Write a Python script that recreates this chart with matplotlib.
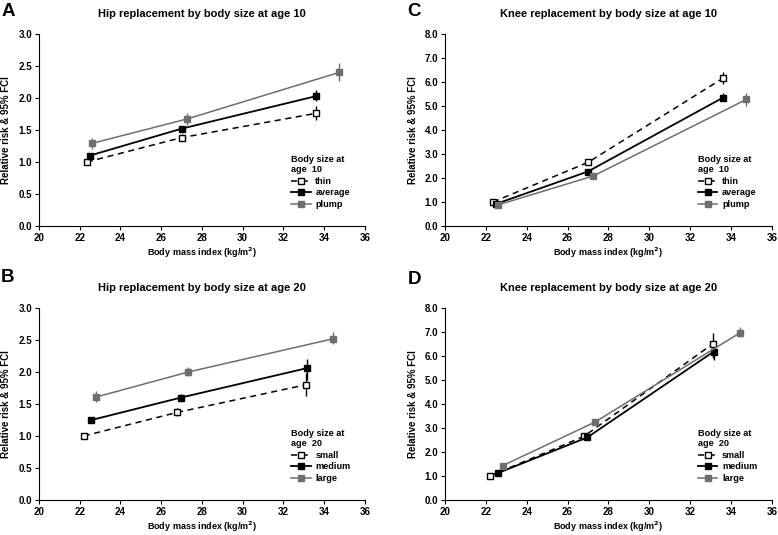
import numpy as np
import matplotlib
matplotlib.use('Agg')
import matplotlib.pyplot as plt

plt.rcParams['font.family'] = ['Liberation Sans', 'DejaVu Sans']
plt.rcParams['font.weight'] = 'bold'

# BMI (x) per group, age 10 panels (A, C) and age 20 panels (B, D)
bmi10 = {'thin': [22.35, 27.0, 33.6], 'average': [22.5, 27.0, 33.62], 'plump': [22.6, 27.25, 34.75]}
bmi20 = {'small': [22.2, 26.8, 33.1], 'medium': [22.58, 26.97, 33.15], 'large': [22.82, 27.33, 34.45]}

# hip, age 10
hipA = {'thin': [1.0, 1.38, 1.76], 'average': [1.1, 1.52, 2.03], 'plump': [1.29, 1.67, 2.40]}
hipA_lo = {'thin': [1.0, 1.33, 1.65], 'average': [1.07, 1.48, 1.95], 'plump': [1.20, 1.58, 2.26]}
hipA_hi = {'thin': [1.0, 1.43, 1.87], 'average': [1.13, 1.56, 2.12], 'plump': [1.38, 1.76, 2.54]}

# knee, age 10
kneeC = {'thin': [1.0, 2.65, 6.15], 'average': [0.92, 2.27, 5.35], 'plump': [0.88, 2.08, 5.27]}
kneeC_lo = {'thin': [1.0, 2.55, 5.9], 'average': [0.85, 2.18, 5.2], 'plump': [0.82, 2.0, 5.0]}
kneeC_hi = {'thin': [1.0, 2.75, 6.43], 'average': [0.98, 2.36, 5.55], 'plump': [0.95, 2.17, 5.55]}

# hip, age 20
hipB = {'small': [1.0, 1.37, 1.80], 'medium': [1.25, 1.60, 2.06], 'large': [1.61, 2.00, 2.52]}
hipB_lo = {'small': [1.0, 1.31, 1.63], 'medium': [1.22, 1.55, 1.88], 'large': [1.53, 1.93, 2.43]}
hipB_hi = {'small': [1.0, 1.43, 1.98], 'medium': [1.28, 1.66, 2.20], 'large': [1.70, 2.08, 2.62]}

# knee, age 20
kneeD = {'small': [1.0, 2.65, 6.5], 'medium': [1.12, 2.61, 6.18], 'large': [1.43, 3.24, 6.97]}
kneeD_lo = {'small': [1.0, 2.55, 5.9], 'medium': [1.05, 2.52, 5.85], 'large': [1.34, 3.12, 6.8]}
kneeD_hi = {'small': [1.0, 2.75, 6.95], 'medium': [1.19, 2.70, 6.45], 'large': [1.52, 3.36, 7.2]}

GRAY = '#6e6e6e'
styles = [dict(color='black', ls='--', mfc='white', mec='black', lw=1.1),
          dict(color='black', ls='-', mfc='black', mec='black', lw=1.3),
          dict(color=GRAY, ls='-', mfc=GRAY, mec=GRAY, lw=1.1)]

fig = plt.figure(figsize=(7.78, 5.35), dpi=100)

# letter, title, x, y, lo, hi, ymax, ystep, age, axes rect, letter pos (px)
panels = [
    ('A', 'Hip replacement by body size at age 10', bmi10, hipA, hipA_lo, hipA_hi, 3.0, 0.5, '10',
     [0.050, 0.5776, 0.419, 0.3589], (2, 11)),
    ('C', 'Knee replacement by body size at age 10', bmi10, kneeC, kneeC_lo, kneeC_hi, 8.0, 1.0, '10',
     [0.572, 0.5776, 0.420, 0.3589], (407, 12)),
    ('B', 'Hip replacement by body size at age 20', bmi20, hipB, hipB_lo, hipB_hi, 3.0, 0.5, '20',
     [0.050, 0.0654, 0.419, 0.3589], (1, 277)),
    ('D', 'Knee replacement by body size at age 20', bmi20, kneeD, kneeD_lo, kneeD_hi, 8.0, 1.0, '20',
     [0.572, 0.0654, 0.420, 0.3589], (408, 280)),
]

W, H = 778, 535
for letter, title, xs, ys, lo, hi, ymax, ystep, age, rect, lpos in panels:
    ax = fig.add_axes(rect)
    for st, name in zip(styles, ys):
        x = np.array(xs[name])
        y = np.array(ys[name])
        err = [y - np.array(lo[name]), np.array(hi[name]) - y]
        ax.errorbar(x, y, yerr=err, color=st['color'], ls=st['ls'], lw=st['lw'],
                    marker='s', ms=4.5, mfc=st['mfc'], mec=st['mec'], mew=1.0,
                    elinewidth=1.0, capsize=0, label=name,
                    dashes=(4, 3) if st['ls'] == '--' else (None, None))
    ax.set_xlim(20, 36)
    ax.set_ylim(0, ymax)
    ax.set_xticks(np.arange(20, 37, 2))
    ax.set_yticks(np.arange(0, ymax + 0.001, ystep))
    ax.set_yticklabels(['%.1f' % v for v in np.arange(0, ymax + 0.001, ystep)])
    ax.tick_params(labelsize=7, length=3, width=0.8, pad=2)
    ax.spines['top'].set_visible(False)
    ax.spines['right'].set_visible(False)
    ax.set_xlabel('Body mass index (kg/m$^\\mathbf{2}$)', fontsize=6.5, fontweight='bold', labelpad=2)
    ax.set_ylabel('Relative risk & 95% FCI', fontsize=7, fontweight='bold', labelpad=5)
    ax.set_title(title, fontsize=8, fontweight='bold', pad=12)
    handles, labels = ax.get_legend_handles_labels()
    handles = [h[0] for h in handles]
    ax.legend(handles, labels, title='Body size at\nage  ' + age, loc='lower left',
              bbox_to_anchor=(0.755, 0.055), frameon=False, fontsize=6.6,
              title_fontproperties={'size': 6.6, 'weight': 'bold'},
              handlelength=2.1, handletextpad=0.5, labelspacing=0.28,
              borderpad=0.2, alignment='left', numpoints=1)
    fig.text(lpos[0] / W, 1 - lpos[1] / H, letter, fontsize=13.5, fontweight='bold',
             ha='left', va='center')

fig.savefig('out.png', dpi=100)
